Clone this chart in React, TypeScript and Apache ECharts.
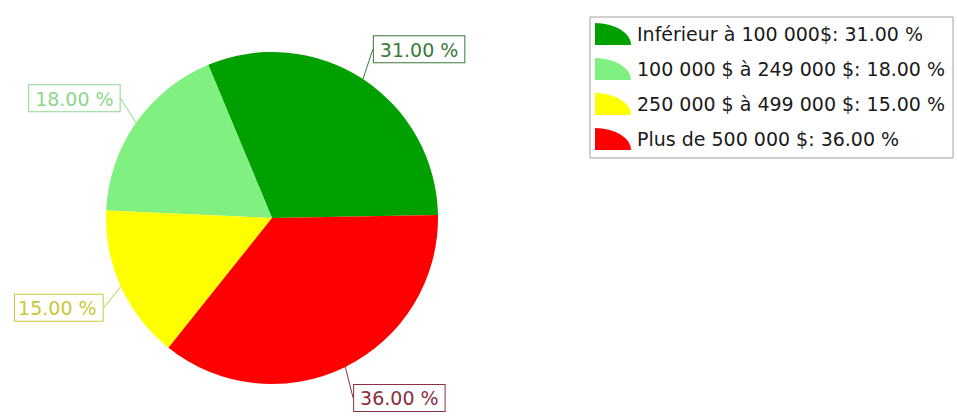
import React, { useEffect, useRef } from "react";
import * as echarts from "echarts";

const categories = [
  "Inférieur à 100 000$",
  "100 000 $ à 249 000 $",
  "250 000 $ à 499 000 $",
  "Plus de 500 000 $",
];
const values = [31, 18, 15, 36];
const sliceColors = ["#00a000", "#80f080", "#ffff00", "#ff0000"];
const labelColors = ["#3a7a3a", "#8ed68e", "#c8c83a", "#8a3040"];

export default function App() {
  const ref = useRef<HTMLDivElement>(null);
  useEffect(() => {
    if (!ref.current) return;
    const chart = echarts.init(ref.current, null, { renderer: "svg" });
    const fmt = (v: number) => v.toFixed(2) + " %";
    const cx = 272;
    const cy = 218;
    chart.setOption({
      animation: false,
      backgroundColor: "#ffffff",
      legend: {
        orient: "vertical",
        left: 590,
        top: 17,
        itemWidth: 36,
        itemHeight: 22,
        itemGap: 13,
        padding: [6, 8, 8, 5],
        borderColor: "#a0a0a0",
        borderWidth: 1,
        backgroundColor: "#ffffff",
        icon: "path://M0,22 L0,0 A36,22 0 0 1 36,22 Z",
        data: categories,
        formatter: (name: string) => {
          const i = categories.indexOf(name);
          return name + ": " + fmt(values[i]);
        },
        textStyle: {
          fontFamily: "DejaVu Sans",
          fontSize: 19,
          color: "#1a1a1a",
          padding: [0, 0, 0, 1],
        },
      },
      series: [
        {
          type: "pie",
          center: [cx, cy],
          radius: 166,
          clockwise: false,
          startAngle: 1,
          silent: true,
          data: categories.map((name, i) => ({
            name,
            value: values[i],
            itemStyle: { color: sliceColors[i] },
            label: {
              color: labelColors[i],
              borderColor: labelColors[i],
            },
            labelLine: { lineStyle: { color: labelColors[i] } },
          })),
          label: {
            show: true,
            position: "outside",
            overflow: "none",
            formatter: (p: any) => fmt(p.value),
            fontFamily: "DejaVu Sans",
            fontSize: 19,
            backgroundColor: "#ffffff",
            borderWidth: 1,
            padding: [4, 6, 3, 6],
          },
          labelLine: {
            show: true,
            length: 20,
            length2: 0,
            smooth: false,
          },
          labelLayout: (p: any) => {
            const pts = p.labelLinePoints;
            if (!pts || !pts.length) return {};
            const end = pts[pts.length - 1];
            const right = end[0] >= cx;
            const top = end[1] < cy;
            return {
              x: end[0],
              y: end[1],
              align: right ? "left" : "right",
              verticalAlign: top ? "bottom" : "top",
            };
          },
          emphasis: { disabled: true },
        },
      ],
    });
    return () => chart.dispose();
  }, []);
  return (
    <div
      ref={ref}
      style={{ position: "absolute", left: 0, top: 0, width: 957, height: 416 }}
    />
  );
}
